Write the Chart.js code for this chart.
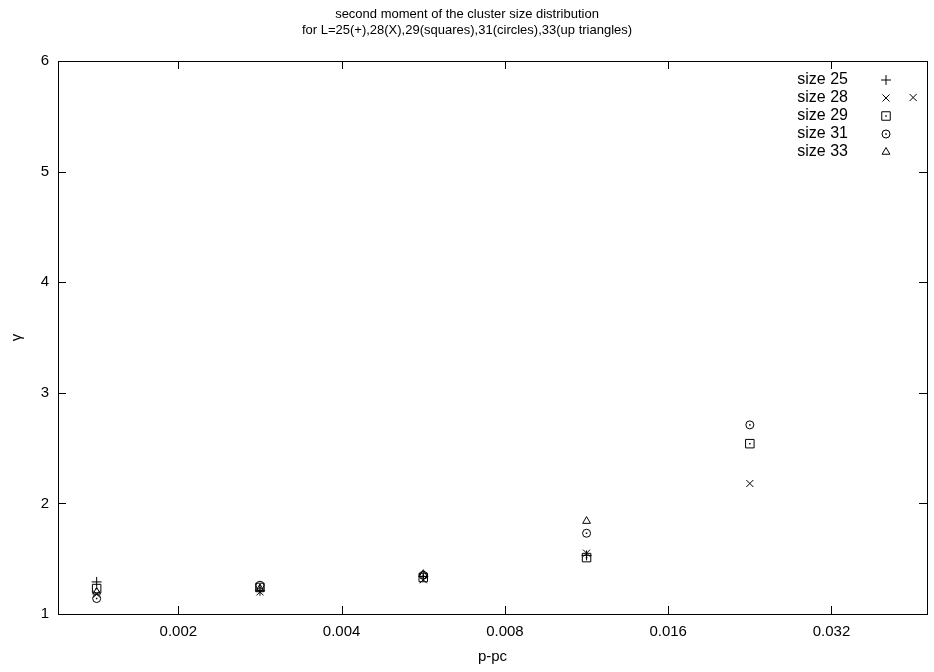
<!DOCTYPE html>
<html lang="en">
<head>
<meta charset="UTF-8">
<title>second moment of the cluster size distribution</title>
<script src="https://cdn.jsdelivr.net/npm/chart.js"></script>
<style>
  body { margin: 0; background: #fff; }
  #wrap { width: 934px; height: 672px; position: relative; }
</style>
</head>
<body>
<div id="wrap"><canvas id="chart"></canvas></div>
<script>
const titleLines = ['second moment of the cluster size distribution',
                    'for L=25(+),28(X),29(squares),31(circles),33(up triangles)'];
const xTicks = [0.002, 0.004, 0.008, 0.016, 0.032];
const yTicks = [1, 2, 3, 4, 5, 6];
const pmpc = [0.001414, 0.002828, 0.005657, 0.011314, 0.022627, 0.045255];
const size25 = [1.29, 1.21, 1.34, 1.53];
const size28 = [1.18, 1.20, 1.31, 1.55, 2.18, 5.67];
const size29 = [1.23, 1.24, 1.33, 1.51, 2.54];
const size31 = [1.14, 1.26, 1.35, 1.73, 2.71];
const size33 = [1.20, 1.23, 1.36, 1.84];

const FONT = "'Liberation Sans', Arial, sans-serif";

function pts(ys) {
    return ys.map((y, i) => ({ x: pmpc[i], y: y }));
}

// gnuplot style symbols
const series = [
    { label: 'size 25', data: size25, style: 'cross', r: 5 },
    { label: 'size 28', data: size28, style: 'crossRot', r: 5 },
    { label: 'size 29', data: size29, style: 'rect', r: 6, dot: true },
    { label: 'size 31', data: size31, style: 'circle', r: 4, dot: true },
    { label: 'size 33', data: size33, style: 'triangle', r: 4.5 }
];

// box, inward ticks on all four sides, centre dots, key and title
const gnuplotLook = {
    id: 'gnuplotLook',
    afterDatasetsDraw(chart) {
        const ctx = chart.ctx;
        ctx.save();
        ctx.fillStyle = '#000';
        chart.data.datasets.forEach((ds, i) => {
            if (!series[i].dot) return;
            chart.getDatasetMeta(i).data.forEach(el => {
                ctx.fillRect(el.x - 0.75, el.y - 0.75, 1.5, 1.5);
            });
        });
        ctx.restore();
    },
    afterDraw(chart) {
        const ctx = chart.ctx;
        const a = chart.chartArea;
        const xs = chart.scales.x, ys = chart.scales.y;
        ctx.save();
        ctx.strokeStyle = '#000';
        ctx.lineWidth = 1;
        ctx.strokeRect(a.left + 0.5, a.top + 0.5, a.right - a.left, a.bottom - a.top);
        ctx.beginPath();
        xTicks.forEach(v => {
            const px = Math.round(xs.getPixelForValue(v)) + 0.5;
            ctx.moveTo(px, a.bottom); ctx.lineTo(px, a.bottom - 8);
            ctx.moveTo(px, a.top); ctx.lineTo(px, a.top + 8);
        });
        yTicks.forEach(v => {
            const py = Math.round(ys.getPixelForValue(v)) + 0.5;
            ctx.moveTo(a.left, py); ctx.lineTo(a.left + 8, py);
            ctx.moveTo(a.right, py); ctx.lineTo(a.right - 8, py);
        });
        ctx.stroke();

        // title
        ctx.fillStyle = '#000';
        ctx.textAlign = 'center';
        ctx.textBaseline = 'middle';
        ctx.font = '13px ' + FONT;
        ctx.fillText(titleLines[0], chart.width / 2, 14);
        ctx.fillText(titleLines[1], chart.width / 2, 30);

        // key
        ctx.font = '16px ' + FONT;
        ctx.textAlign = 'right';
        series.forEach((s, i) => {
            const y = 80 + i * 18;
            ctx.fillStyle = '#000';
            ctx.fillText(s.label, 848, y);
            ctx.fillStyle = 'rgba(0,0,0,0)';
            Chart.helpers.drawPoint(ctx, { pointStyle: s.style, radius: s.r, borderWidth: 1, rotation: 0 }, 886, y);
            if (s.dot) {
                ctx.fillStyle = '#000';
                ctx.fillRect(886 - 0.75, y - 0.75, 1.5, 1.5);
            }
        });
        ctx.restore();
    }
};

new Chart(document.getElementById('chart'), {
    type: 'scatter',
    data: {
        datasets: series.map(s => ({
            label: s.label,
            data: pts(s.data),
            pointStyle: s.style,
            pointRadius: s.r,
            pointHoverRadius: s.r,
            borderColor: '#000',
            backgroundColor: 'rgba(0,0,0,0)',
            borderWidth: 1,
            showLine: false
        }))
    },
    options: {
        responsive: true,
        maintainAspectRatio: false,
        animation: false,
        layout: { padding: { top: 61, right: 7, left: 0, bottom: 0 } },
        plugins: {
            legend: { display: false },
            title: { display: false },
            tooltip: { enabled: false }
        },
        scales: {
            x: {
                type: 'logarithmic',
                min: 0.0012,
                max: 0.048,
                afterBuildTicks: s => { s.ticks = xTicks.map(v => ({ value: v })); },
                afterFit: s => { s.height = 58; },
                grid: { display: false, drawTicks: false },
                border: { display: false },
                ticks: {
                    autoSkip: false,
                    maxRotation: 0,
                    padding: 9,
                    color: '#000',
                    font: { family: FONT, size: 15 },
                    callback: v => String(v)
                },
                title: {
                    display: true,
                    text: 'p-pc',
                    color: '#000',
                    font: { family: FONT, size: 15 },
                    padding: { top: 0, bottom: 6 }
                }
            },
            y: {
                min: 1,
                max: 6,
                afterBuildTicks: s => { s.ticks = yTicks.map(v => ({ value: v })); },
                afterFit: s => { s.width = 58; },
                grid: { display: false, drawTicks: false },
                border: { display: false },
                ticks: {
                    padding: 9,
                    color: '#000',
                    font: { family: FONT, size: 15 }
                },
                title: {
                    display: true,
                    text: 'γ',
                    color: '#000',
                    font: { family: FONT, size: 15 },
                    padding: { top: 8, bottom: 0 }
                }
            }
        }
    },
    plugins: [gnuplotLook]
});
</script>
</body>
</html>
